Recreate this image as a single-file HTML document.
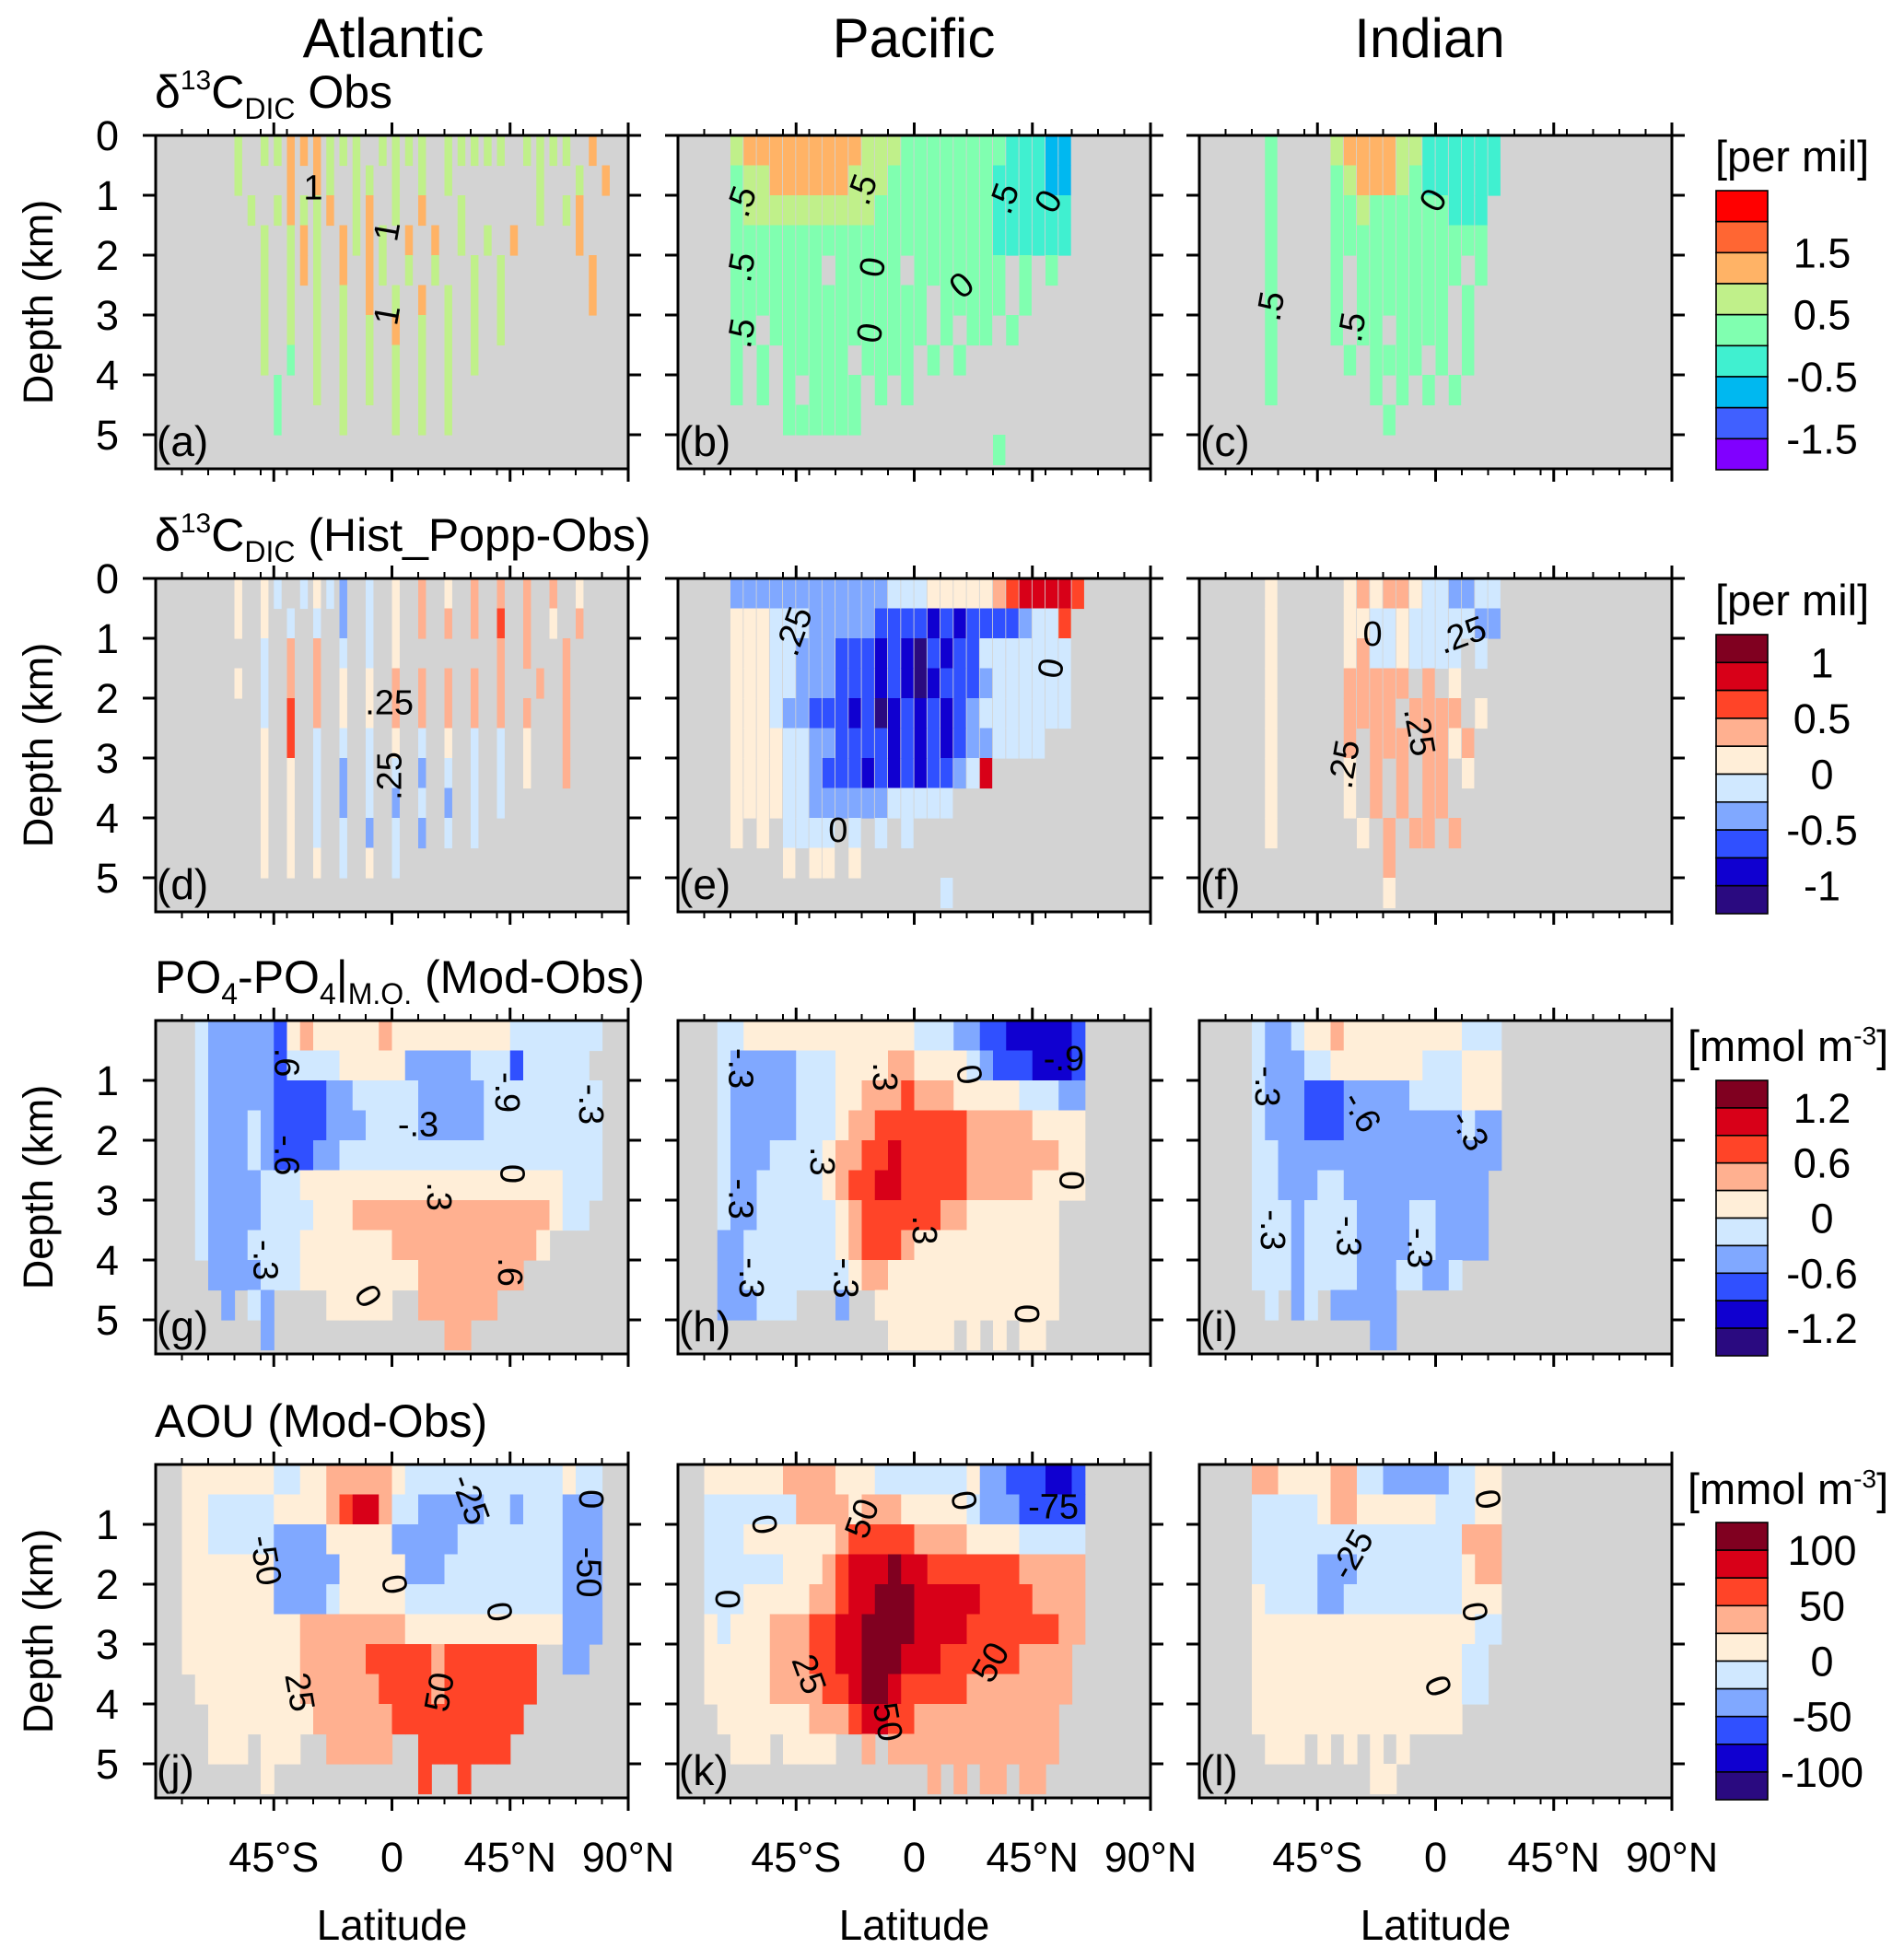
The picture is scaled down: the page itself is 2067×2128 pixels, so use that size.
<!DOCTYPE html>
<html><head><meta charset="utf-8"><style>
html,body{margin:0;padding:0;background:#fff;}
svg{display:block;font-family:"Liberation Sans",Arial,sans-serif;}
</style></head><body>
<svg id="fig" xmlns="http://www.w3.org/2000/svg" width="2067" height="2128" viewBox="0 0 2067 2128"></svg>
<script>
// ---------------- data ----------------
const basins = ["Atlantic","Pacific","Indian"];
const depthTicks = [0,1,2,3,4,5];
const latTicks = [-45,0,45,90];
const latTickLabels = ["45°S","0","45°N","90°N"];
const scaleObs = ["#FF0000","#FF6633","#FFB366","#C0F08A","#80FFB0","#40F0D0","#00B8F0","#4060FF","#8000FF"];
const scaleDiff = ["#800020","#D80018","#FF4428","#FFB090","#FFEED8","#D0E8FF","#80A8FF","#3050FF","#1000D0","#2A0A80"];
const cbLabels1 = ["1.5","0.5","-0.5","-1.5"];
const cbLabels2 = ["1","0.5","0","-0.5","-1"];
const cbLabels3 = ["1.2","0.6","0","-0.6","-1.2"];
const cbLabels4 = ["100","50","0","-50","-100"];
const panelLetters = ["a","b","c","d","e","f","g","h","i","j","k","l"];

// grid rows: 5-degree columns from 90S, 0.5 km depth rows; char = colour index, '.' = no data
// rows are either literal 36-char strings or run-length tokens "<char><count>"
const gridA = ["......3.33222333.3333.33333.3333.2..","......3...2.23.33.3.3.3......3..3.2.",".......3.32332.32.3.2..3.....3.32...","........3.323.2323.2.2.3.3.2....2...","........3.323.2.23.3.3..3.3......2..","........3.3.3.3.2.3.2.3.3.3......2..","........3.3.3.3.3.2.3.3.3.3.........","........3.4.3.3.3.3.3.3.3...........",".........4..3.3.3.3.3.3.............",".........4....3...3.3.3.............","...................................."];
const gridB = ["....3222222222333444444445556 6......".replace(" ",""),"....433222222333444444445555 66......".replace(" ",""),"....43333333333444444444555555......","....44444444444444444444555555......","....4444444.44444.4444444.4.4.......","....444444444444444.44444.4.........","....44.444444444444.4.44.4..........","....4.4.44444.4444.4.4..............","....4.4.4.4444.4.4..................","........444444......................","........................4..........."];
const gridC = [".....4....3222233555555.............",".....4....4322234555555.............",".....4....443444444555..............",".....4....444444444444..............",".....4....4.44444444.4..............",".....4....4.4444444.4...............",".....4....4.44.4444.4...............",".....4.....4.4444.4.4...............",".....4.......4.4.4.4................","..............4.....................","...................................."];
const gridD = ["......4.45.5456.5.4.3.4.3.3.3.3.4...","......4.4.5.5.6.5.4.3.3.3.2.3.4.3...","........5.3.3.5.5.4.......3.3..3....","......4.5.3.3.4.4.3.3.3.3.3..3.3....","........5.2.3.4.4.3.3.3.3.3.3..3....","........4.2.5.5.5.4.5.4.5.5.4..3....","........4.4.5.6.5.5.6.5.5.5.4..3....","........4.4.5.6.5.6.5.6.5.5.........","........4.4.5.5.6.5.6.5.5...........","........4.4.4.5.4.5.................","...................................."];
const gridE = ["....666666666666555444443211112.....","....44455566666777787877776552......","....44455666777878978775555555......","....44455666777878987776555555......","....44456677787987878765555555......","....444455667777878787665555........","....44445567778787877651............","....44445566666655555...............","....4.4.5555.5.5.5..................","........4.44.4......................","....................5..............."];
const gridF = [".....4.....434334556655.............",".....4.....445545555566.............",".....4.....435545555.5..............",".....4.....33333.3.4................",".....4.....3333.3333.4..............",".....4.....3.333.3343...............",".....4.....4.3.3.33.4...............",".....4.....4.3.3.33.................",".....4......4.3.33.3................","..............3.....................","..............4....................."];
const gridG = [".3 51 65 71 41 31 45 31 49 57 .2",".3 51 65 71 54 45 65 53 71 55 .3",".3 51 64 61 74 62 55 65 59 .2",".3 51 63 51 61 74 63 54 65 59 .2",".3 51 63 51 61 73 62 520 .2",".3 51 64 53 420 53 .2",".3 51 64 54 43 315 41 52 .3",".3 51 63 54 47 311 41 .6",".4 64 53 49 38 .8",".5 61 .1 51 61 .4 45 .2 36 .10",".8 61 .13 32 .12"];
const gridH = [".3 52 413 53 62 72 85 71 .5",".3 51 65 53 44 32 44 51 61 73 83 71 .5",".3 51 65 53 42 33 21 33 45 53 62 .5",".3 51 65 53 41 32 27 35 44 .5",".3 51 63 54 41 32 22 11 25 37 42 .5",".3 51 62 55 41 31 22 12 25 35 44 .5",".3 51 62 56 41 31 26 32 47 .7",".3 62 57 41 31 23 31 411 .7",".3 62 58 41 32 413 .7",".3 63 53 .3 61 .2 414 .7",".16 44 41 .1 41 .1 41 .1 42 .8"];
const gridI = [".4 51 62 51 42 31 49 53 .13",".4 51 63 52 47 53 43 .13",".4 51 63 73 65 54 43 .13",".4 51 63 73 69 51 62 .13",".4 52 617 .13",".4 52 63 52 611 .14",".4 53 61 54 64 52 64 .14",".4 53 61 54 64 52 64 .14",".4 53 61 54 63 52 62 51 .16",".5 51 .1 61 51 .1 65 .21",".13 62 .21"];
const gridJ = [".2 47 52 42 33 32 41 512 41 52 .2",".2 42 55 44 31 21 12 31 52 65 52 61 53 63 .2",".2 42 55 64 45 65 58 63 .2",".2 47 65 45 63 59 63 .2",".2 47 64 51 45 512 63 .2",".2 49 38 412 63 .2",".2 49 35 25 31 27 .2 62 .3",".3 48 36 24 31 27 .7",".4 48 36 210 .8",".4 43 .1 43 .2 35 .2 27 .9",".8 41 .11 21 .2 21 .12"];
const gridK = [".2 46 34 43 57 41 62 73 82 71 .5",".2 57 34 41 33 45 51 63 75 .5",".2 53 47 31 25 34 44 55 .5",".2 56 43 31 21 13 01 12 27 35 .5",".2 53 45 32 21 12 03 15 24 34 .5",".2 41 51 43 33 22 12 04 14 27 32 .5",".2 45 33 22 12 03 13 26 34 .6",".2 45 34 22 11 02 11 25 38 .6",".3 47 33 21 12 22 311 .7",".4 43 .1 44 .2 31 .1 313 .7",".19 31 .1 31 .1 32 .1 32 .8"];
const gridL = [".4 32 44 32 52 65 52 42 .13",".4 55 41 32 46 53 42 .13",".4 516 33 .13",".4 55 63 58 41 32 .13",".4 41 54 62 59 43 .13",".4 417 52 .13",".4 416 52 .14",".4 416 52 .14",".4 416 .16",".5 43 .1 41 .1 41 .1 41 .1 41 .20",".13 42 .21"];

// contour labels: [panel, lat, depth(km), text, rotation]
const contourLabels = [
 [0,-30,0.87,"1",0],[0,-2,1.6,"1",-80],[0,-2,3.0,"1",-80],
 [1,-66,1.1,".5",-70],[1,-20,0.9,".5",-70],[1,34,1.05,".5",-70],[1,-16,2.2,"0",-80],[1,18,2.5,"0",-40],[1,-66,2.2,".5",-80],[1,-17,3.3,"0",-80],[1,-66,3.3,".5",-80],[1,51,1.1,"0",-60],
 [2,-63,2.85,".5",-80],[2,-32,3.2,".5",-80],[2,-1,1.08,"0",-60],
 [3,-1,2.07,".25",0],[3,-1,3.3,".25",-90],
 [4,-46,0.88,".25",-70],[4,-29,4.2,"0",0],[4,52,1.5,"0",-80],
 [5,-24,0.92,"0",0],[5,10,0.94,".25",-20],[5,-6,2.56,".25",80],[5,-35,3.1,".25",-80],
 [6,-40,0.7,".6",90],[6,44,1.2,"-.9",90],[6,10,1.73,"-.3",0],[6,-40,2.25,"-.6",90],[6,46,2.56,"0",90],[6,18,2.94,".3",90],[6,-48,4.0,"-.3",90],[6,-9,4.6,"0",60],[6,45,4.2,".6",90],[6,76,1.4,"-.3",90],
 [7,-66,0.8,"-.3",90],[7,-11,0.94,".3",90],[7,21,0.9,"0",80],[7,57,0.63,"-.9",0],[7,-35,2.35,".3",90],[7,-66,2.98,"-.3",90],[7,4,3.5,".3",90],[7,60,2.67,"0",90],[7,-26,4.3,"-.3",90],[7,-62,4.3,"-.3",90],[7,43,4.9,"0",90],
 [8,-64,1.1,"-.3",90],[8,-28,1.52,"-.6",60],[8,13,1.83,"-.3",60],[8,-62,3.5,"-.3",90],[8,-33,3.6,"-.3",90],[8,-6,3.8,"-.3",90],
 [9,30,0.58,"-25",70],[9,76,0.58,"0",90],[9,-48,1.6,"-50",80],[9,75,1.8,"-50",90],[9,1,2.0,"0",80],[9,41,2.46,"0",80],[9,-35,3.8,"25",80],[9,18,3.8,"50",-80],
 [10,-57,1.0,"0",80],[10,-20,0.9,"50",-70],[10,19,0.6,"0",80],[10,53,0.7,"-75",0],[10,-71,2.25,"0",90],[10,-40,3.5,"25",70],[10,29,3.3,"50",-60],[10,-10,4.3,"50",80],
 [11,-32,1.5,"-25",-60],[11,20,0.58,"0",80],[11,15,2.46,"0",80],[11,1,3.7,"0",70]
];

// ---------------- layout ----------------
const svg = document.getElementById("fig");
const NS = "http://www.w3.org/2000/svg";
const colLeft = [169,736,1302];
const rowTop = [147,628,1108,1590];
const PW = 513, PH = 362, KM = 65;
const grids = [gridA,gridB,gridC,gridD,gridE,gridF,gridG,gridH,gridI,gridJ,gridK,gridL];
const rowScales = [scaleObs,scaleDiff,scaleDiff,scaleDiff];
const stripeFrac = [0.55,0.9,0.9];
const cbLabelSets = [cbLabels1,cbLabels2,cbLabels3,cbLabels4];
const cbTop = [207,689,1173,1653];
const cbBottom = [510,992,1472,1954];

function decodeRow(row){
  if (row.indexOf(" ")<0 && !/^\.\d/.test(row)) return row;
  let s = "";
  row.trim().split(/\s+/).forEach(tok=>{ s += tok[0].repeat(parseInt(tok.slice(1),10)); });
  return s;
}
function mk(tag, attrs, parent){
  const e = document.createElementNS(NS, tag);
  for (const k in attrs) e.setAttribute(k, attrs[k]);
  (parent||svg).appendChild(e);
  return e;
}
function xOf(c, lat){ return colLeft[c] + (lat+90)/180*PW; }
function yOf(r, d){ return rowTop[r] + d*KM; }

// column titles
basins.forEach((b,i)=>{
  const t = mk("text",{x:[427,992,1552][i],y:62,"font-size":60,"text-anchor":"middle"});
  t.textContent = b;
  
  
});

// row titles
function rowTitle(r, parts, y){
  const t = mk("text",{x:168,y:y,"font-size":50});
  
  
  parts.forEach(p=>{
    const s = mk("tspan",{},t);
    s.textContent = p[0];
    if (p[1]==="sup"){ s.setAttribute("font-size",30); s.setAttribute("dy",-20); }
    if (p[1]==="sub"){ s.setAttribute("font-size",32); s.setAttribute("dy",12); }
    if (p[2]) s.setAttribute("dy", p[2]);
  });
}
rowTitle(0,[["δ"],["13","sup"],["C",null,20],["DIC","sub"],[" Obs",null,-12]],117);
rowTitle(1,[["δ"],["13","sup"],["C",null,20],["DIC","sub"],[" (Hist_Popp-Obs)",null,-12]],598);
rowTitle(2,[["PO"],["4","sub"],["-PO",null,-12],["4","sub"],["|",null,-12],["M.O.","sub"],[" (Mod-Obs)",null,-12]],1078);
rowTitle(3,[["AOU (Mod-Obs)"]],1560);

// panels
for (let r=0;r<4;r++){
  for (let c=0;c<3;c++){
    const pi = r*3+c;
    const g = mk("g",{});
    
    
    mk("rect",{x:colLeft[c],y:rowTop[r],width:PW,height:PH,fill:"#D3D3D3"},g);
    const grid = grids[pi];
    const frac = (r<2) ? stripeFrac[c] : 1;
    grid.forEach((rawRow,ri)=>{
      const row = decodeRow(rawRow);
      for (let ci=0;ci<36;ci++){
        const ch = row[ci];
        if (!ch || ch===".") continue;
        const lat0 = -90 + ci*5;
        const x0 = xOf(c, lat0), x1 = xOf(c, lat0+5);
        const w = (x1-x0)*frac;
        const y0 = yOf(r, ri*0.5), y1 = yOf(r, Math.min(ri*0.5+0.5, PH/KM));
        const cell = mk("rect",{x:x0.toFixed(2),y:y0.toFixed(2),width:(w+0.6).toFixed(2),height:(y1-y0+0.6).toFixed(2),fill:rowScales[r][+ch]},g);
        
        
      }
    });
    const x0 = colLeft[c], y0 = rowTop[r];
    depthTicks.forEach(d=>{
      if (r>=2 && d===0) return;
      const y = yOf(r,d);
      mk("line",{x1:x0-14,x2:x0,y1:y,y2:y,stroke:"#000","stroke-width":3},g);
      mk("line",{x1:x0+PW,x2:x0+PW+14,y1:y,y2:y,stroke:"#000","stroke-width":3},g);
    });
    for (let lat=-80; lat<=90; lat+=10){
      const x = xOf(c,lat);
      mk("line",{x1:x,x2:x,y1:y0-7,y2:y0,stroke:"#000","stroke-width":2},g);
      mk("line",{x1:x,x2:x,y1:y0+PH,y2:y0+PH+7,stroke:"#000","stroke-width":2},g);
    }
    latTicks.forEach(lat=>{
      const x = xOf(c,lat);
      mk("line",{x1:x,x2:x,y1:y0-14,y2:y0,stroke:"#000","stroke-width":3},g);
      mk("line",{x1:x,x2:x,y1:y0+PH,y2:y0+PH+14,stroke:"#000","stroke-width":3},g);
    });
    mk("rect",{x:x0,y:y0,width:PW,height:PH,fill:"none",stroke:"#000","stroke-width":3},g);
    const lt = mk("text",{x:x0+1,y:y0+PH-14,"font-size":46},g);
    lt.textContent = "(" + panelLetters[pi] + ")";
    
    
    if (c===0){
      depthTicks.forEach(d=>{
        if (r>=2 && d===0) return;
        const t = mk("text",{x:129,y:yOf(r,d)+16,"font-size":45,"text-anchor":"end"});
        t.textContent = String(d);
        
        
      });
      const yc = rowTop[r]+PH/2;
      const at = mk("text",{x:57,y:yc,"font-size":45,"text-anchor":"middle",transform:`rotate(-90 57 ${yc})`});
      at.textContent = "Depth (km)";
      
      
    }
    if (r===3){
      latTicks.forEach((lat,k)=>{
        const t = mk("text",{x:xOf(c,lat),y:2032,"font-size":45,"text-anchor":"middle"});
        t.textContent = latTickLabels[k];
        
        
      });
      const xt = mk("text",{x:colLeft[c]+PW/2,y:2106,"font-size":46,"text-anchor":"middle"});
      xt.textContent = "Latitude";
      
      
    }
  }
}

// contour labels
contourLabels.forEach(cl=>{
  const pi = cl[0], r = Math.floor(pi/3), c = pi%3;
  const x = xOf(c, cl[1]), y = yOf(r, cl[2]);
  const t = mk("text",{x:x,y:y+13,"font-size":38,"text-anchor":"middle",transform:`rotate(${cl[4]} ${x} ${y})`});
  t.textContent = cl[3];
  
  
});

// colorbars
for (let r=0;r<4;r++){
  const g = mk("g",{});
  
  
  const sc = rowScales[r];
  const n = sc.length, top = cbTop[r], h = (cbBottom[r]-top)/n;
  sc.forEach((col,k)=>{
    const b = mk("rect",{x:1863,y:top+k*h,width:56,height:h,fill:col,stroke:"#000","stroke-width":1.6},g);
    
    
  });
  const labs = cbLabelSets[r];
  labs.forEach((lab,k)=>{
    const bi = (r===0) ? 2+2*k : 1+2*k;
    const t = mk("text",{x:1978,y:top+bi*h+16,"font-size":45,"text-anchor":"middle"},g);
    t.textContent = lab;
    
    
  });
  const u = mk("text",{x:(r<2?1862:1832),y:[186,668,1152,1633][r],"font-size":47},g);
  
  
  if (r<2){ u.textContent = "[per mil]"; }
  else {
    const a = mk("tspan",{},u); a.textContent = "[mmol m";
    const s = mk("tspan",{"font-size":28,dy:-18},u); s.textContent = "-3";
    const z = mk("tspan",{dy:18},u); z.textContent = "]";
  }
}
</script>
</body></html>
